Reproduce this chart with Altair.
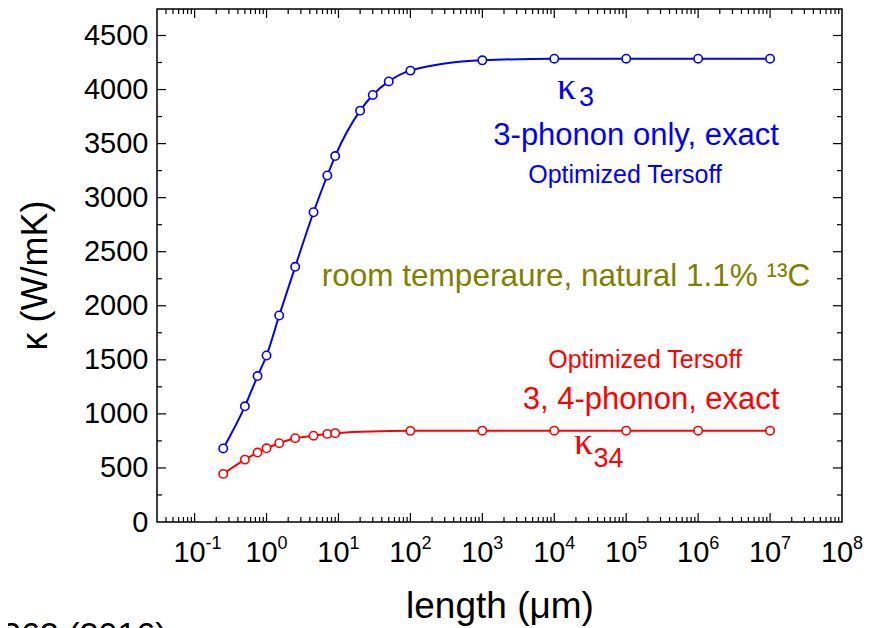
import altair as alt
import pandas as pd

# ---------------- data ----------------
length_k3 = [0.25, 0.5, 0.75, 1, 1.5, 2.5, 4.5, 7, 9, 20, 30, 50, 100, 1e3, 1e4, 1e5, 1e6, 1e7]
kappa_k3 = [680, 1070, 1350, 1540, 1910, 2360, 2865, 3205, 3385, 3805, 3950, 4075, 4175, 4270, 4285, 4285, 4285, 4285]

length_k34 = [0.25, 0.5, 0.75, 1, 1.5, 2.5, 4.5, 7, 9, 100, 1e3, 1e4, 1e5, 1e6, 1e7]
kappa_k34 = [445, 577, 642, 682, 729, 775, 798, 815, 822, 843, 845, 845, 845, 845, 845]

decade_exponents = [-1, 0, 1, 2, 3, 4, 5, 6, 7, 8]
exponent_labels = ["-1", "0", "1", "2", "3", "4", "5", "6", "7", "8"]
y_tick_values = [0, 500, 1000, 1500, 2000, 2500, 3000, 3500, 4000, 4500]

# annotations (centered)
ann_text = ["3-phonon only, exact", "Optimized Tersoff", "room temperaure, natural 1.1% ¹³C",
            "Optimized Tersoff", "3, 4-phonon, exact"]
ann_x = [1.371e5, 9.64e4, 1.458e4, 1.828e5, 2.216e5]
ann_y = [3484, 3133, 2181, 1423, 1044]
ann_size = [31, 25, 31.5, 25, 31]
ann_color = ["#0000ff", "#0000ff", "#808000", "#ff0000", "#ff0000"]

# kappa symbols and subscripts (left aligned)
kap_x = [1.094e4, 1.884e4]
kap_y = [3909, 628]
kap_color = ["#0000ff", "#ff0000"]
sub_text = ["3", "34"]
sub_x = [2.200e4, 3.500e4]
sub_y = [3845, 508]

BLUE = "#0000ff"
RED = "#ff0000"
W, H = 685, 513
FONT = "Liberation Sans"

xs = alt.Scale(type="log", domain=[0.03, 1e8], nice=False)
ys = alt.Scale(domain=[0, 4745], nice=False)

df = pd.DataFrame({
    "length": length_k3 + length_k34,
    "kappa": kappa_k3 + kappa_k34,
    "series": ["k3"] * len(length_k3) + ["k34"] * len(length_k34),
    "col": [BLUE] * len(length_k3) + [RED] * len(length_k34),
})

xaxis = alt.Axis(labels=False, ticks=False, domain=False, grid=False,
                 title="length (μm)", titleFontSize=37, titleFontWeight="normal",
                 titleColor="black", titleX=W / 2, titleY=95, titleAlign="center",
                 titleBaseline="alphabetic", titleFont=FONT)
yaxis = alt.Axis(values=y_tick_values, format="d", ticks=False, domain=False, grid=False,
                 labelFontSize=29, labelPadding=9, labelColor="black", labelFont=FONT,
                 title="κ (W/mK)", titleFontSize=36, titleFontWeight="normal",
                 titleColor="black", titleX=-103, titleY=266, titleAngle=270,
                 titleAlign="center", titleBaseline="bottom", titleFont=FONT)


def X(field):
    return alt.X(field, scale=xs, axis=xaxis, title="length (μm)")


def Y(field):
    return alt.Y(field, scale=ys, axis=yaxis, title="κ (W/mK)")


lines = alt.Chart(df).mark_line(interpolate="monotone", strokeWidth=2).encode(
    x=X("length:Q"), y=Y("kappa:Q"),
    color=alt.Color("col:N", scale=None),
    detail="series:N",
)
points = alt.Chart(df).mark_point(shape="circle", filled=False, fill="white", opacity=1,
                                  size=70, strokeWidth=1.6).encode(
    x=X("length:Q"), y=Y("kappa:Q"),
    color=alt.Color("col:N", scale=None),
)

# ---------------- inward ticks ----------------
x_major = [10.0 ** k for k in range(-1, 8)]
x_minor = [m * 10.0 ** k for k in range(-2, 8) for m in range(2, 10) if 0.031 < m * 10.0 ** k < 1e8]
y_major = [v for v in y_tick_values if 0 < v]
y_minor = [250 + 500 * i for i in range(9)]


def xticks(vals, length, top):
    y0 = 0 if top else H
    y1 = length if top else H - length
    return alt.Chart(pd.DataFrame({"t": vals})).mark_rule(color="black", strokeWidth=1.2).encode(
        x=X("t:Q"), y=alt.value(y0), y2=alt.value(y1))


def yticks(vals, length, right):
    x0 = W if right else 0
    x1 = W - length if right else length
    return alt.Chart(pd.DataFrame({"t": vals})).mark_rule(color="black", strokeWidth=1.2).encode(
        y=Y("t:Q"), x=alt.value(x0), x2=alt.value(x1))


tick_layers = [xticks(x_major, 9, False), xticks(x_minor, 5, False),
               xticks(x_major, 9, True), xticks(x_minor, 5, True),
               yticks(y_major, 9, False), yticks(y_minor, 5, False),
               yticks(y_major, 9, True), yticks(y_minor, 5, True)]

# ---------------- x tick labels 10^k ----------------
lab_df = pd.DataFrame({"t": [10.0 ** k for k in decade_exponents], "base": ["10"] * len(decade_exponents),
                       "exp": exponent_labels})
lab_base = alt.Chart(lab_df).mark_text(fontSize=29, align="center", baseline="alphabetic", dx=-5,
                                       color="black", font=FONT).encode(
    x=X("t:Q"), y=alt.value(H + 40), text="base:N")
lab_exp = alt.Chart(lab_df).mark_text(fontSize=18, align="left", baseline="alphabetic", dx=11,
                                      color="black", font=FONT).encode(
    x=X("t:Q"), y=alt.value(H + 27), text="exp:N")

# ---------------- annotations ----------------
ann_df = pd.DataFrame({"x": ann_x, "y": ann_y, "text": ann_text, "size": ann_size, "col": ann_color})
ann = alt.Chart(ann_df).mark_text(align="center", baseline="alphabetic", font=FONT).encode(
    x=X("x:Q"), y=Y("y:Q"),
    text="text:N", size=alt.Size("size:Q", scale=None), color=alt.Color("col:N", scale=None))

kap_df = pd.DataFrame({"x": kap_x, "y": kap_y, "text": ["κ", "κ"], "col": kap_color})
kap = alt.Chart(kap_df).mark_text(align="left", baseline="alphabetic", font="Liberation Serif",
                                  fontSize=38).encode(
    x=X("x:Q"), y=Y("y:Q"),
    text="text:N", color=alt.Color("col:N", scale=None))

sub_df = pd.DataFrame({"x": sub_x, "y": sub_y, "text": sub_text, "col": kap_color})
sub = alt.Chart(sub_df).mark_text(align="left", baseline="alphabetic", font=FONT, fontSize=27).encode(
    x=X("x:Q"), y=Y("y:Q"),
    text="text:N", color=alt.Color("col:N", scale=None))

cite = alt.Chart(pd.DataFrame({"t": ["362 (2016)"]})).mark_text(
    align="left", baseline="alphabetic", fontSize=34, font=FONT, color="black").encode(
    x=alt.value(-155), y=alt.value(637), text="t:N")

chart = alt.layer(lines, points, *tick_layers, lab_base, lab_exp, ann, kap, sub, cite).properties(
    width=W, height=H,
    autosize=alt.AutoSizeParams(type="none"),
    padding={"left": 149, "top": 1, "right": 26, "bottom": 135},
).configure(font=FONT).configure_view(stroke="black", strokeWidth=1.5)

chart.save("out.html", embed_options={"renderer": "svg", "actions": False})
